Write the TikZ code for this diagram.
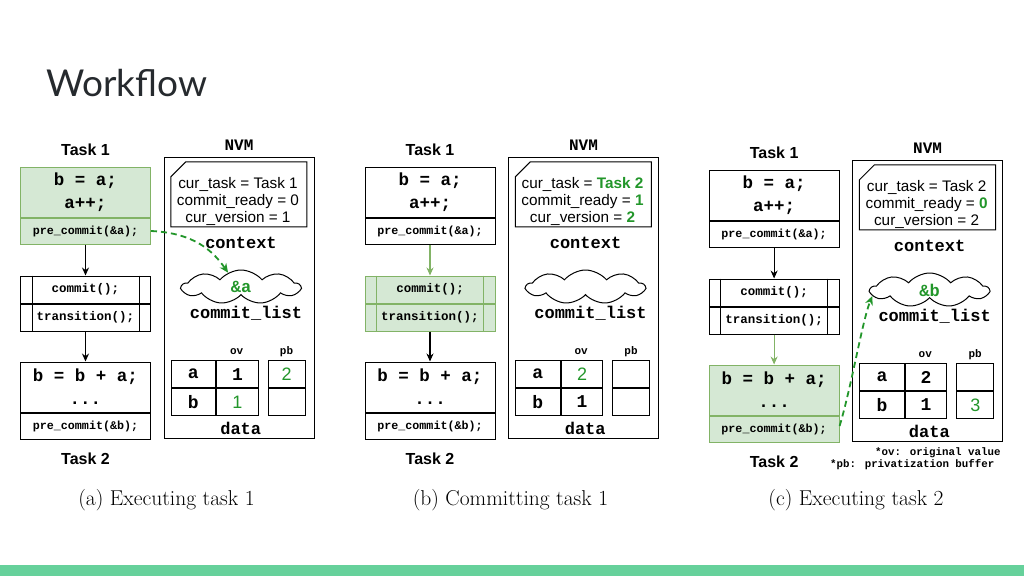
\documentclass[tikz,border=0pt]{standalone}
\usepackage{fontspec}
\usetikzlibrary{arrows.meta,shapes.symbols,positioning}
\newfontfamily\hv{Liberation Sans}
\newfontfamily\cour{Liberation Mono}
\newfontfamily\lato{Lato}
\definecolor{fillgreen}{HTML}{D5E8D4}
\definecolor{linegreen}{HTML}{82B366}
\definecolor{textgreen}{HTML}{22962A}
\definecolor{bargreen}{HTML}{66D19B}
\definecolor{titlegray}{HTML}{262A2E}
\newcommand{\grn}[1]{\textcolor{textgreen}{\hv\mdseries #1}}
\newcommand{\grnb}[1]{\textcolor{textgreen}{\bfseries #1}}

\newcommand{\wfpanel}[9]{%
  \node[tasklabel] (#1-lone) at (85.5,150) {Task 1};
  \node[box, bigcode, tonefill, minimum height=50] (#1-tone) at (85.5,192) {b = a;\\a++;};
  \node[box, smallcode, tonefill, minimum height=26, below=0pt of #1-tone] (#1-pone) {pre\_commit(\&a);};
  \node[box, code, cmtfill, minimum height=27] (#1-cmt) at (85.5,289.5) {commit();};
  \node[box, code, cmtfill, minimum height=27, below=0pt of #1-cmt] (#1-trn) {transition();};
  \draw[line width=1, cmtedge] ([xshift=12]#1-cmt.north west) -- ([xshift=12]#1-trn.south west)
    ([xshift=-12]#1-cmt.north east) -- ([xshift=-12]#1-trn.south east);
  \node[box, bigcode, ttwofill, minimum height=50] (#1-ttwo) at (85.5,387) {b = b + a;\\...};
  \node[box, smallcode, ttwofill, minimum height=26, below=0pt of #1-ttwo] (#1-ptwo) {pre\_commit(\&b);};
  \node[tasklabel] (#1-ltwo) at (85.5,459) {Task 2};
  \draw[flow, arrone] (#1-pone) -- (#1-cmt);
  \draw[flow, arrtwo] (#1-trn) -- (#1-ttwo);
  % nvm
  \node[font=\cour\bfseries\fontsize{16}{18}\selectfont] (#1-lnvm) at (239,145) {NVM};
  \node[draw, line width=1, minimum width=150, minimum height=281] (#1-nvm) at (239,297.5) {};
  \node[minimum width=135.7, minimum height=64.7, inner sep=0] (#1-card) at (238.85,194.35) {};
  \draw[line width=1] ([yshift=-15]#1-card.north west) -- ([xshift=15]#1-card.north west)
    -- (#1-card.north east) -- (#1-card.south east) -- (#1-card.south west) -- cycle;
  \node[font=\hv\fontsize{15.3}{17}\selectfont, align=center] (#1-ctx) at (238,201)
    {cur\_task = #2\\commit\_ready = #3\\cur\_version = #4};
  \node[label] (#1-lctx) at (241,243.3) {context};
  \node[cloud, draw, line width=1, cloud puffs=9, cloud puff arc=100, cloud ignores aspect, minimum width=118,
    minimum height=34, inner sep=0, text=textgreen, label] (#1-cl) at (241,287) {#5};
  \node[label] (#1-lcl) at (246,313.3) {commit\_list};
  \node[font=\cour\bfseries\fontsize{11}{12}\selectfont] (#1-lov) at (236.7,351.7) {ov};
  \node[font=\cour\bfseries\fontsize{11}{12}\selectfont] (#1-lpb) at (286.5,351.7) {pb};
  \node[cell, minimum width=44.7] (#1-an) at (193.35,374.1) {a};
  \node[cell, minimum width=44.7, below=0pt of #1-an] (#1-bn) {b};
  \node[cell, minimum width=41.6, right=0pt of #1-an] (#1-ao) {#6};
  \node[cell, minimum width=41.6, below=0pt of #1-ao] (#1-bo) {#7};
  \node[cell, minimum width=36.7] (#1-ap) at (286.65,374.1) {#8};
  \node[cell, minimum width=36.7, below=0pt of #1-ap] (#1-bp) {#9};
  \node[label] (#1-ldata) at (240.7,428.3) {data};
}

\begin{document}
\begin{tikzpicture}[x=1pt, y=-1pt,
  box/.style={draw, line width=1, minimum width=130, inner sep=0, align=center},
  bigcode/.style={font=\cour\bfseries\fontsize{17.5}{23}\selectfont},
  code/.style={font=\cour\bfseries\fontsize{12.5}{14}\selectfont},
  smallcode/.style={font=\cour\bfseries\fontsize{11.7}{14}\selectfont},
  label/.style={font=\cour\bfseries\fontsize{17}{20}\selectfont},
  tasklabel/.style={font=\hv\bfseries\fontsize{16}{19}\selectfont},
  cell/.style={draw, line width=1, minimum height=26.8, inner sep=0, font=\cour\bfseries\fontsize{18}{20}\selectfont},
  flow/.style={line width=1.1, -{Stealth[length=8pt,width=7pt]}},
  hlarrow/.style={draw=textgreen, line width=1.8, dash pattern=on 6pt off 4pt, -{Stealth[length=9pt,width=8pt]}},
  tonefill/.style={}, cmtfill/.style={}, cmtedge/.style={}, ttwofill/.style={},
  arrone/.style={}, arrtwo/.style={}]
  \useasboundingbox (0,0) rectangle (1024,576);
  \fill[white] (0,0) rectangle (1024,576);
  \fill[bargreen] (0,565) rectangle (1024,576);
  \node[anchor=base west, inner sep=0, text=titlegray, font=\lato\fontsize{37}{40}\selectfont] (title) at (46,96) {Workflow};

  \begin{scope}[tonefill/.style={fill=fillgreen, draw=linegreen}]
    \wfpanel{a}{Task 1}{0}{1}{\&a}{1}{\grn{1}}{\grn{2}}{}
    \draw[hlarrow] (a-pone.east) .. controls +(45,2) and +(-14,-20) .. (a-cl.132);
  \end{scope}

  \begin{scope}[shift={(344.5,0)}, cmtfill/.style={fill=fillgreen, draw=linegreen},
    cmtedge/.style={draw=linegreen}, arrone/.style={draw=linegreen}]
    \wfpanel{b}{\grnb{Task 2}}{\grnb{1}}{\grnb{2}}{}{\grn{2}}{1}{}{}
  \end{scope}

  \begin{scope}[shift={(688.6,3)}, ttwofill/.style={fill=fillgreen, draw=linegreen},
    arrtwo/.style={draw=linegreen}]
    \wfpanel{c}{Task 2}{\grnb{0}}{2}{\&b}{2}{1}{}{\grn{3}}
    \draw[hlarrow] ([yshift=3]c-ptwo.east) .. controls +(12,-40) and +(-10,25) .. (c-cl.186);
  \end{scope}

  \node[anchor=west, inner sep=0, font=\cour\bfseries\fontsize{10.8}{12}\selectfont] (fnov) at (875,452.7) {*ov: original value};
  \node[anchor=west, inner sep=0, font=\cour\bfseries\fontsize{10.8}{12}\selectfont] (fnpb) at (830,465) {*pb: privatization buffer};

  \node[font=\fontsize{21.5}{24}\selectfont] (capa) at (166.5,500) {(a) Executing task 1};
  \node[font=\fontsize{21.5}{24}\selectfont] (capb) at (510.5,500) {(b) Committing task 1};
  \node[font=\fontsize{21.5}{24}\selectfont] (capc) at (856,500) {(c) Executing task 2};
\end{tikzpicture}
\end{document}
